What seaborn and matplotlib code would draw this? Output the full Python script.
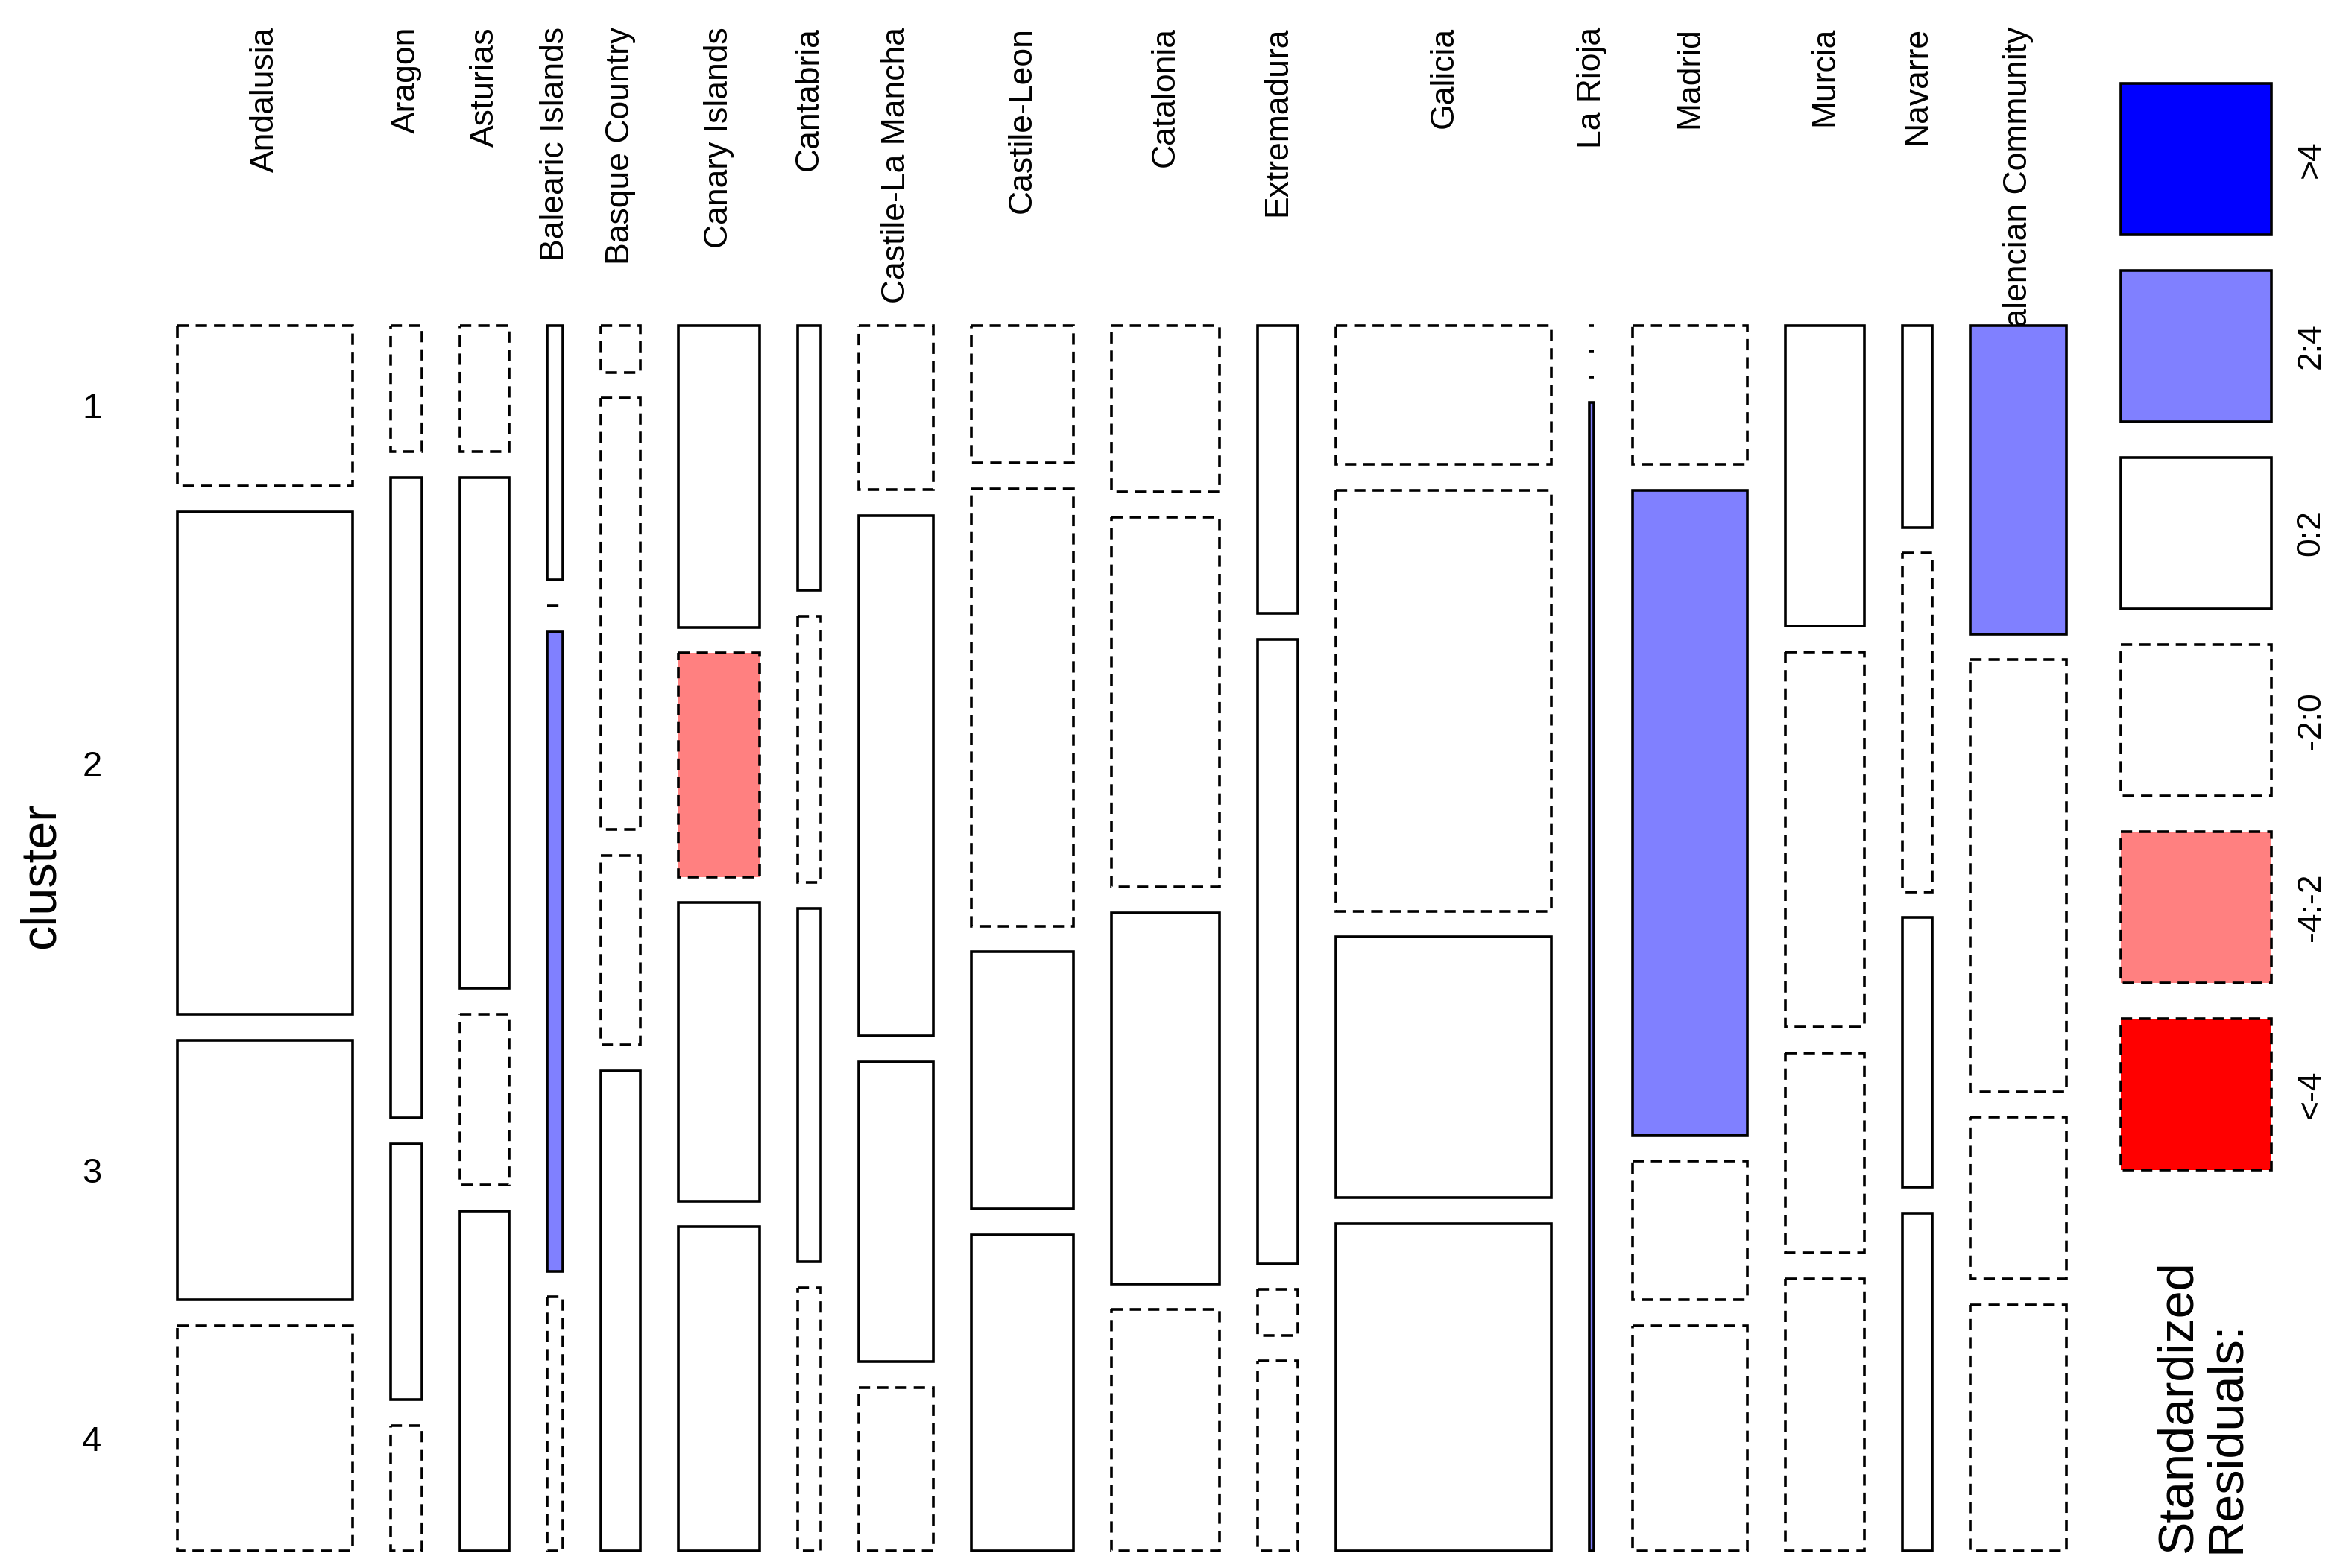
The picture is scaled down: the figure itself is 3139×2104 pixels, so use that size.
import numpy as np
import pandas as pd
import matplotlib
matplotlib.use("Agg")
import matplotlib.pyplot as plt
import matplotlib.transforms as mtransforms
import seaborn as sns

regions = [
    "Andalusia", "Aragon", "Asturias", "Balearic Islands", "Basque Country",
    "Canary Islands", "Cantabria", "Castile-La Mancha", "Castile-Leon",
    "Catalonia", "Extremadura", "Galicia", "La Rioja", "Madrid", "Murcia",
    "Navarre", "Valencian Community",
]
clusters = ["1", "2", "3", "4"]

region_share = [13.7, 2.45, 3.85, 1.2, 3.1, 6.35, 1.8, 5.8, 8.0,
                8.45, 3.15, 16.85, 0.35, 9.0, 6.2, 2.3, 7.55]

# cluster mix inside each region (%), clusters 1..4
cluster_pct = [
    [14.0, 43.8, 22.6, 19.6],   # Andalusia
    [11.0, 55.8, 22.3, 10.9],   # Aragon
    [11.0, 44.5, 14.9, 29.6],   # Asturias
    [22.2, 0.0, 55.7, 22.1],    # Balearic Islands
    [4.1, 37.6, 16.5, 41.8],    # Basque Country
    [26.3, 19.5, 26.0, 28.2],   # Canary Islands
    [23.1, 23.2, 30.8, 22.9],   # Cantabria
    [14.3, 45.3, 26.1, 14.2],   # Castile-La Mancha
    [12.0, 38.1, 22.4, 27.5],   # Castile-Leon
    [14.5, 32.2, 32.3, 21.0],   # Catalonia
    [25.1, 54.4, 4.0, 16.5],    # Extremadura
    [12.1, 36.7, 22.7, 28.5],   # Galicia
    [0.0, 0.0, 0.0, 100.0],     # La Rioja
    [12.1, 56.2, 12.1, 19.6],   # Madrid
    [26.2, 32.7, 17.4, 23.7],   # Murcia
    [17.6, 29.5, 23.5, 29.4],   # Navarre
    [26.9, 37.6, 14.1, 21.4],   # Valencian Community
]

# standardized residual band of each cell
resid_class = [
    ["-2:0", "0:2", "0:2", "-2:0"],
    ["-2:0", "0:2", "0:2", "-2:0"],
    ["-2:0", "0:2", "-2:0", "0:2"],
    ["0:2", "-2:0", "2:4", "-2:0"],
    ["-2:0", "-2:0", "-2:0", "0:2"],
    ["0:2", "-4:-2", "0:2", "0:2"],
    ["0:2", "-2:0", "0:2", "-2:0"],
    ["-2:0", "0:2", "0:2", "-2:0"],
    ["-2:0", "-2:0", "0:2", "0:2"],
    ["-2:0", "-2:0", "0:2", "-2:0"],
    ["0:2", "0:2", "-2:0", "-2:0"],
    ["-2:0", "-2:0", "0:2", "0:2"],
    ["-2:0", "-2:0", "-2:0", "2:4"],
    ["-2:0", "2:4", "-2:0", "-2:0"],
    ["0:2", "-2:0", "-2:0", "-2:0"],
    ["0:2", "-2:0", "0:2", "0:2"],
    ["2:4", "-2:0", "-2:0", "-2:0"],
]

legend_labels = [">4", "2:4", "0:2", "-2:0", "-4:-2", "<-4"]

DASH = (0, (4.2, 2.6))
SHADES = {
    ">4": ("#0000FF", "-"),
    "2:4": ("#8080FF", "-"),
    "0:2": ("white", "-"),
    "-2:0": ("white", DASH),
    "-4:-2": ("#FF8080", DASH),
    "<-4": ("#FF0000", DASH),
}
LW = 2.6
W, H = 3139, 2104
GAP_X = 0.0298
GAP_Y = 0.0225


def build_cells() -> pd.DataFrame:
    share = np.array(region_share) / np.sum(region_share)
    lefts = np.concatenate([[0.0], np.cumsum(share)[:-1]]) + GAP_X * np.arange(len(share))
    rows = []
    for i, region in enumerate(regions):
        props = np.array(cluster_pct[i]) / np.sum(cluster_pct[i])
        tops = np.concatenate([[0.0], np.cumsum(props)[:-1]]) + GAP_Y * np.arange(len(props))
        for j, cl in enumerate(clusters):
            rows.append(dict(region=region, cluster=cl, x0=lefts[i], width=share[i],
                             y0=tops[j], height=props[j], resid=resid_class[i][j]))
    return pd.DataFrame(rows)


sns.set_theme(style="white")
plt.rcParams["font.family"] = ["Liberation Sans", "DejaVu Sans"]
plt.rcParams["text.color"] = "black"
plt.rcParams["ytick.color"] = "black"
plt.rcParams["ytick.labelcolor"] = "black"

cells = build_cells()

fig = plt.figure(figsize=(W / 100, H / 100), dpi=100)
ax = fig.add_axes([238 / W, 1 - 2080.6 / H, (2772.4 - 238) / W, (2080.6 - 436.5) / H])
ax.set_facecolor("none")

for band, grp in cells[cells["height"] > 0].groupby("resid"):
    face, ls = SHADES[band]
    ax.bar(grp["x0"], grp["height"], width=grp["width"], bottom=grp["y0"], align="edge",
           color=face, edgecolor="black", linewidth=LW, linestyle=ls, zorder=2, clip_on=False)

# empty cells are drawn as a dashed line
empty = cells[cells["height"] == 0]
ax.hlines(empty["y0"], empty["x0"], empty["x0"] + empty["width"], colors="black",
          linewidth=LW, linestyles=[DASH], zorder=2, clip_on=False)

ax.set_xlim(0, 1 + GAP_X * (len(regions) - 1))
ax.set_ylim(1 + GAP_Y * (len(clusters) - 1), 0)
sns.despine(ax=ax, left=True, bottom=True)
ax.set_xticks([])

first = cells[cells["region"] == regions[0]]
ax.set_yticks(first["y0"] + first["height"] / 2)
ax.set_yticklabels(clusters, fontsize=34, color="black")
ax.tick_params(axis="y", length=0, pad=73)

top_trans = mtransforms.blended_transform_factory(ax.transData, fig.transFigure)
col = cells.drop_duplicates("region")
for _, r in col.iterrows():
    ax.text(r["x0"] + r["width"] / 2, 1 - 36 / H, r["region"], transform=top_trans,
            rotation=90, ha="center", va="top", fontsize=32, color="black",
            zorder=1, clip_on=False)

fig.text(56 / W, 1 - 1175 / H, "cluster", rotation=90, ha="center", va="center",
         fontsize=48, color="black")

# legend of residual bands
lax = fig.add_axes([2845 / W, 1 - 1570 / H, 202 / W, 1458 / H])
box_h = 203 / 251
for i, lab in enumerate(legend_labels):
    face, ls = SHADES[lab]
    lax.bar([0], [box_h], width=1, bottom=[i], align="edge", color=face,
            edgecolor="black", linewidth=LW, linestyle=ls, clip_on=False)
    fig.text(3100 / W, 1 - (112 + i * 251 + 101.5) / H, lab, rotation=90,
             ha="center", va="center", fontsize=32, color="black")
lax.set_xlim(0, 1)
lax.set_ylim(1458 / 251, 0)
lax.axis("off")

fig.text(2955 / W, 1 - 2084 / H, "Standardized\nResiduals:", rotation=90, ha="center",
         va="bottom", multialignment="left", fontsize=48, linespacing=1.05, color="black")

fig.savefig("out.png", dpi=100, facecolor="white")
plt.close(fig)
